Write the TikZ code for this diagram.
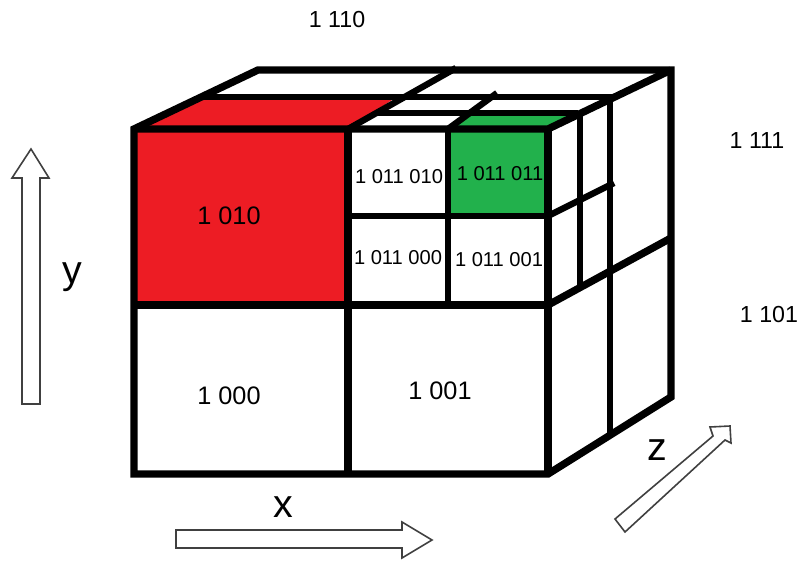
\documentclass[tikz,border=0pt]{standalone}
\usepackage{fontspec}
\setmainfont{Liberation Sans}
\usepackage{xcolor}
\definecolor{cellred}{HTML}{ED1C24}
\definecolor{cellgreen}{HTML}{22B14C}
\begin{document}
\begin{tikzpicture}[
  x=0.025cm, y=-0.025cm,
  edge/.style={draw=black, line width=0.185cm},
  inner/.style={draw=black, line width=0.16cm},
  axis/.style={draw=black!75, line width=0.04cm, fill=white, line join=miter},
  big/.style={inner sep=0pt, font=\fontsize{18}{20}\selectfont},
  mid/.style={inner sep=0pt, font=\fontsize{16.5}{18}\selectfont},
  small/.style={inner sep=0pt, font=\fontsize{14.3}{16}\selectfont},
  letter/.style={inner sep=0pt, font=\fontsize{28}{30}\selectfont}
]
  \useasboundingbox (0, 0) rectangle (797, 560);
  % filled faces
  \fill[cellred] (134, 129) rectangle (348, 305);
  \fill[cellred] (134, 129) -- (203, 96) -- (398, 96) -- (348, 129) -- cycle;
  \fill[cellgreen] (448, 129) rectangle (548, 216);
  \fill[cellgreen] (448, 129) -- (466, 114) -- (578, 114) -- (548, 129) -- cycle;
  % top face
  \draw[inner] (203, 97) -- (612, 97);
  \draw[inner] (378, 113) -- (578, 113);
  \draw[inner] (348, 129) -- (456, 68);
  \draw[inner] (448, 129) -- (497, 93);
  % right face
  \draw[inner] (610, 97) -- (610, 433);
  \draw[inner] (580, 114) -- (580, 287);
  \draw[inner] (548, 216) -- (614, 183);
  \draw[edge] (548, 305) -- (671, 238);
  % outline
  \draw[edge] (134, 129) -- (258, 70) -- (671, 70) -- (671, 397) -- (548, 474)
    -- (134, 474) -- cycle;
  \draw[edge] (134, 129) -- (548, 129) -- (671, 70);
  \draw[edge] (548, 129) -- (548, 474);
  \draw[edge] (134, 305) -- (548, 305);
  \draw[edge] (348, 129) -- (348, 474);
  \draw[inner] (348, 216) -- (548, 216);
  \draw[inner] (448, 129) -- (448, 305);
  % axis arrows
  \draw[axis] (22, 404) -- (22, 178) -- (12, 178) -- (31, 149) -- (49, 178)
    -- (40, 178) -- (40, 404) -- cycle;
  \draw[axis] (176, 530) -- (402, 530) -- (402, 522) -- (432, 540) -- (402, 558)
    -- (402, 548) -- (176, 548) -- cycle;
  \draw[axis] (615, 519) -- (713, 436) -- (710, 427) -- (730, 426) -- (731, 443)
    -- (725, 440) -- (625, 532) -- cycle;
  % labels
  \node[big] (red) at (229, 216) {1 010};
  \node[big] (low) at (229, 396) {1 000};
  \node[big] (high) at (440, 391) {1 001};
  \node[small] (ul) at (399, 177) {1 011 010};
  \node[small] (ur) at (500, 174) {1 011 011};
  \node[small] (ll) at (398, 258) {1 011 000};
  \node[small] (lr) at (499, 260) {1 011 001};
  \node[mid] (back) at (337, 20) {1 110};
  \node[mid] (corner) at (757, 141) {1 111};
  \node[mid] (side) at (769, 315) {1 101};
  \node[letter] (ylabel) at (72, 277) {y};
  \node[letter] (xlabel) at (283, 507) {x};
  \node[letter] (zlabel) at (657, 450) {z};
\end{tikzpicture}
\end{document}
